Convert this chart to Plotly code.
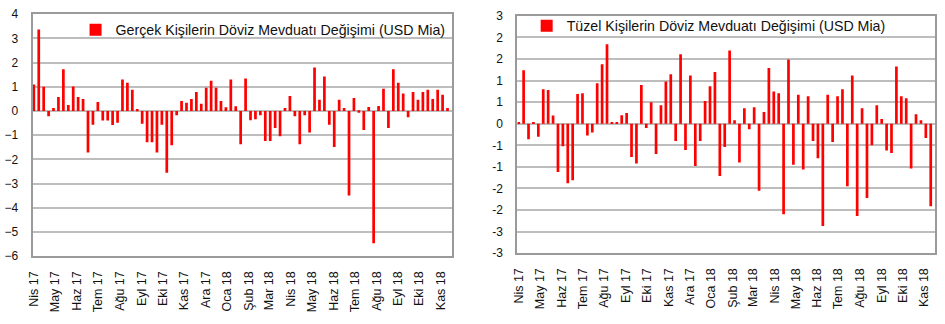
import pandas as pd
import plotly.graph_objects as go

# Weekly data (Fridays) from 7 Apr 2017 to 16 Nov 2018
weeks = pd.date_range("2017-04-07", periods=85, freq="7D")

gercek = [1.1, 3.37, 1.0, -0.22, 0.12, 0.58, 1.72, 0.25, 1.01, 0.58,
          0.5, -1.71, -0.57, 0.37, -0.39, -0.39, -0.58, -0.49, 1.3, 1.17,
          0.88, 0.08, -0.53, -1.29, -1.29, -1.71, -0.57, -2.55, -1.41, -0.18,
          0.41, 0.34, 0.5, 0.79, 0.3, 0.96, 1.25, 0.96, 0.41, 0.16,
          1.3, 0.2, -1.37, 1.34, -0.38, -0.34, -0.18, -1.24, -1.24, -0.7,
          -1.04, 0.12, 0.62, -0.22, -1.37, -0.18, -0.89, 1.8, 0.46, 1.43,
          -0.57, -1.49, 0.46, 0.12, -3.49, 0.54, -0.07, -0.78, 0.17, -5.46,
          0.21, 0.92, -0.7, 1.72, 1.17, 0.72, -0.26, 0.79, 0.46, 0.79,
          0.88, 0.5, 0.88, 0.67, 0.12]

tuzel = [0.03, 1.24, -0.36, 0.04, -0.3, 0.8, 0.78, 0.19, -1.12, -0.52,
         -1.38, -1.31, 0.69, 0.71, -0.27, -0.2, 0.94, 1.38, 1.84, 0.04,
         0.04, 0.2, 0.25, -0.77, -0.92, 0.9, -0.1, 0.5, -0.7, 0.43,
         0.98, 1.15, -0.4, 1.61, -0.61, 1.12, -0.98, -0.4, 0.53, 0.87,
         1.2, -1.21, -0.54, 1.7, 0.08, -0.9, 0.36, -0.13, 0.38, -1.55,
         0.27, 1.29, 0.75, 0.71, -2.1, 1.49, -0.95, 0.67, -1.06, 0.64,
         -0.4, -0.8, -2.37, 0.67, -0.42, 0.64, 0.8, -1.45, 1.12, -2.14,
         0.36, -1.72, -0.5, 0.43, 0.11, -0.62, -0.68, 1.33, 0.64, 0.59,
         -1.04, 0.22, 0.08, -0.33, -1.91]

month_labels = ["Nis 17", "May 17", "Haz 17", "Tem 17", "Ağu 17", "Eyl 17",
                "Eki 17", "Kas 17", "Ara 17", "Oca 18", "Şub 18", "Mar 18",
                "Nis 18", "May 18", "Haz 18", "Tem 18", "Ağu 18", "Eyl 18",
                "Eki 18", "Kas 18"]
month_ticks = [pd.Timestamp("2017-04-07") + pd.DateOffset(months=i) for i in range(len(month_labels))]

left_yticks = [-6, -5, -4, -3, -2, -1, 0, 1, 2, 3, 4]
right_yticks = [-3, -2.5, -2, -1.5, -1, -0.5, 0, 0.5, 1, 1.5, 2, 2.5]
right_yticktext = ["-3", "-3", "-2", "-2", "-1", "-1", "0", "1", "1", "2", "2", "3"]

name_left = "Gerçek Kişilerin Döviz Mevduatı Değişimi (USD Mia)"
name_right = "Tüzel Kişilerin Döviz Mevduatı Değişimi (USD Mia)"

W, H = 945, 324
FONT = "Liberation Sans, Arial, sans-serif"
RED = "#FF0000"
GRID = "#BDBDBD"
BORDER = "#9A9A9A"

fig = go.Figure()
fig.add_trace(go.Bar(x=weeks, y=gercek, name=name_left, marker_color=RED,
                     marker_line_width=0, xaxis="x", yaxis="y",
                     legend="legend", showlegend=True))
fig.add_trace(go.Bar(x=weeks, y=tuzel, name=name_right, marker_color=RED,
                     marker_line_width=0, xaxis="x2", yaxis="y2",
                     legend="legend2", showlegend=True))

xrange = ["2017-04-05 04:00", "2018-11-22 04:00"]
common_x = dict(type="date", range=xrange, tickvals=month_ticks, ticktext=month_labels,
                tickangle=-90, showgrid=False, showline=True, mirror=True,
                linecolor=BORDER, linewidth=2, ticks="", ticklabelstandoff=8,
                tickfont=dict(family=FONT, size=12.5, color="#111"), zeroline=False)
common_y = dict(showgrid=True, gridcolor=GRID, gridwidth=1.5, showline=True, mirror=True,
                linecolor=BORDER, linewidth=2, ticks="", ticklabelstandoff=10,
                zeroline=True, zerolinecolor=GRID, zerolinewidth=1.5,
                tickfont=dict(family=FONT, size=12, color="#111"))

legend_common = dict(xanchor="left", yanchor="middle", bgcolor="rgba(0,0,0,0)",
                     borderwidth=0, font=dict(family=FONT, size=14.2, color="#111"))

fig.update_layout(
    width=W, height=H,
    margin=dict(l=0, r=0, t=0, b=0),
    paper_bgcolor="white", plot_bgcolor="white",
    bargap=0.45,
    showlegend=True,
    font=dict(family=FONT, size=12, color="#111"),
    xaxis=dict(domain=[26.7 / W, 448.7 / W], anchor="y", **common_x),
    yaxis=dict(domain=[1 - 260.5 / H, 1 - 7.5 / H], anchor="x", range=[-6, 4],
               tickvals=left_yticks, **common_y),
    xaxis2=dict(domain=[514.7 / W, 935 / W], anchor="y2", **common_x),
    yaxis2=dict(domain=[1 - 257.3 / H, 1 - 9.3 / H], anchor="x2", range=[-3, 2.5],
                tickvals=right_yticks, ticktext=right_yticktext, **common_y),
    legend=dict(x=70 / W, y=1 - 24 / H, **legend_common),
    legend2=dict(x=524 / W, y=1 - 20 / H, **legend_common),
)

fig.write_html("out.html")
